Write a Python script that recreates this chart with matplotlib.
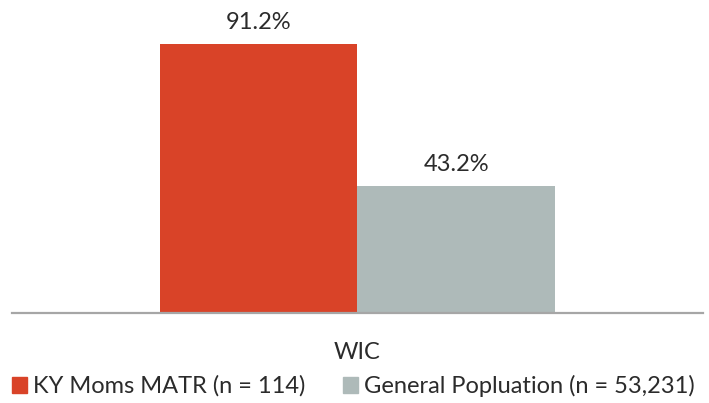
import matplotlib
matplotlib.use('Agg')
from matplotlib import pyplot as plt
from matplotlib.patches import Patch

#   data
CATEGORY = 'WIC'
SERIES = ['KY Moms MATR (n = 114)', 'General Popluation (n = 53,231)']
VALUES = [91.2, 43.2]
COLORS = ['#D94328', '#AEBAB9']

plt.rcParams['font.family'] = ['Lato', 'DejaVu Sans']

fig = plt.figure(figsize=(7.09, 4.03), dpi=100)
ax = fig.add_axes([0.0169, 0.2233, 0.9746, 0.732])

width = 0.2865
offsets = [-width / 2, width / 2]
for val, off, col in zip(VALUES, offsets, COLORS):
    ax.bar(off, val, width=width, color=col, align='center')
    ax.text(off, val + 5, '%.1f%%' % val, ha='center', va='baseline',
            fontsize=17, color='#2B2B2B')

ax.set_xlim(-0.5, 0.5)
ax.set_ylim(0, 100)
ax.set_yticks([])
ax.set_xticks([0])
ax.set_xticklabels([CATEGORY], fontsize=17, color='#2B2B2B')
ax.tick_params(axis='x', length=0, pad=21)
for side in ['top', 'right', 'left']:
    ax.spines[side].set_visible(False)
ax.spines['bottom'].set_color('#A6A6A6')
ax.spines['bottom'].set_linewidth(1.6)

handles = [Patch(color=c) for c in COLORS]
fig.legend(handles, SERIES, loc='center left',
           bbox_to_anchor=(12 / 709, 1 - 386 / 403),
           ncol=2, frameon=False, fontsize=17, handlelength=0.64,
           handleheight=0.64, handletextpad=0.25, columnspacing=1.6,
           borderpad=0, borderaxespad=0, labelcolor='#2B2B2B')

fig.savefig('out.png', dpi=100)
